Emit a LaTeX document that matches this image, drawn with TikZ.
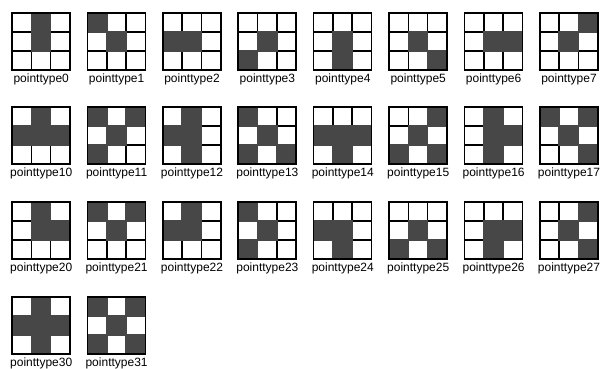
\documentclass[tikz,border=0pt]{standalone}
\usepackage{fontspec}
\setmainfont{Liberation Sans}
\tikzset{
  cellfill/.style={fill=black!72},
  gridline/.style={line width=1.6pt, draw=black},
  lbl/.style={font=\fontsize{12}{12}\selectfont, anchor=base, inner sep=0pt},
}
\newcommand{\ptbox}[4]{%
  \begin{scope}[shift={(#1,#2)}]
    \node[minimum width=58pt, minimum height=57pt, inner sep=0pt, anchor=north west] (box#3) at (0,0) {};
    \foreach \i in {1,2} {
      \draw[gridline] (\i*58/3,0) -- (\i*58/3,57);
      \draw[gridline] (0,\i*19) -- (58,\i*19);
    }
    \foreach \r/\c in {#4} {
      \fill[cellfill] (\c*58/3-0.8,\r*19-0.8) rectangle (\c*58/3+58/3+0.8,\r*19+19+0.8);
    }
    \draw[gridline] (0,0) rectangle (58,57);
  \end{scope}
  \node[lbl] (lab#3) at ([yshift=-12pt]box#3.south) {pointtype#3};
}
\begin{document}
\begin{tikzpicture}[x=1pt,y=-1pt]
  \useasboundingbox (0,0) rectangle (605,369);
  % row 1
  \ptbox{12}{13}{0}{0/1,1/1}
  \ptbox{87.4}{13}{1}{0/0,1/1}
  \ptbox{162.8}{13}{2}{1/0,1/1}
  \ptbox{238.2}{13}{3}{1/1,2/0}
  \ptbox{313.6}{13}{4}{1/1,2/1}
  \ptbox{389}{13}{5}{1/1,2/2}
  \ptbox{464.4}{13}{6}{1/1,1/2}
  \ptbox{539.8}{13}{7}{0/2,1/1}
  % row 2
  \ptbox{12}{107}{10}{0/1,1/0,1/1,1/2}
  \ptbox{87.4}{107}{11}{0/0,0/2,1/1,2/0}
  \ptbox{162.8}{107}{12}{0/1,1/0,1/1,2/1}
  \ptbox{238.2}{107}{13}{0/0,1/1,2/0,2/2}
  \ptbox{313.6}{107}{14}{1/0,1/1,1/2,2/1}
  \ptbox{389}{107}{15}{0/2,1/1,2/0,2/2}
  \ptbox{464.4}{107}{16}{0/1,1/1,1/2,2/1}
  \ptbox{539.8}{107}{17}{0/0,0/2,1/1,2/2}
  % row 3
  \ptbox{12}{202}{20}{0/1,1/1,1/2}
  \ptbox{87.4}{202}{21}{0/0,0/2,1/1}
  \ptbox{162.8}{202}{22}{0/1,1/0,1/1}
  \ptbox{238.2}{202}{23}{0/0,1/1,2/0}
  \ptbox{313.6}{202}{24}{1/0,1/1,2/1}
  \ptbox{389}{202}{25}{1/1,2/0,2/2}
  \ptbox{464.4}{202}{26}{1/1,1/2,2/1}
  \ptbox{539.8}{202}{27}{0/2,1/1,2/2}
  % row 4
  \ptbox{12}{297}{30}{0/1,1/0,1/1,1/2,2/1}
  \ptbox{87.4}{297}{31}{0/0,0/2,1/1,2/0,2/2}
\end{tikzpicture}
\end{document}
